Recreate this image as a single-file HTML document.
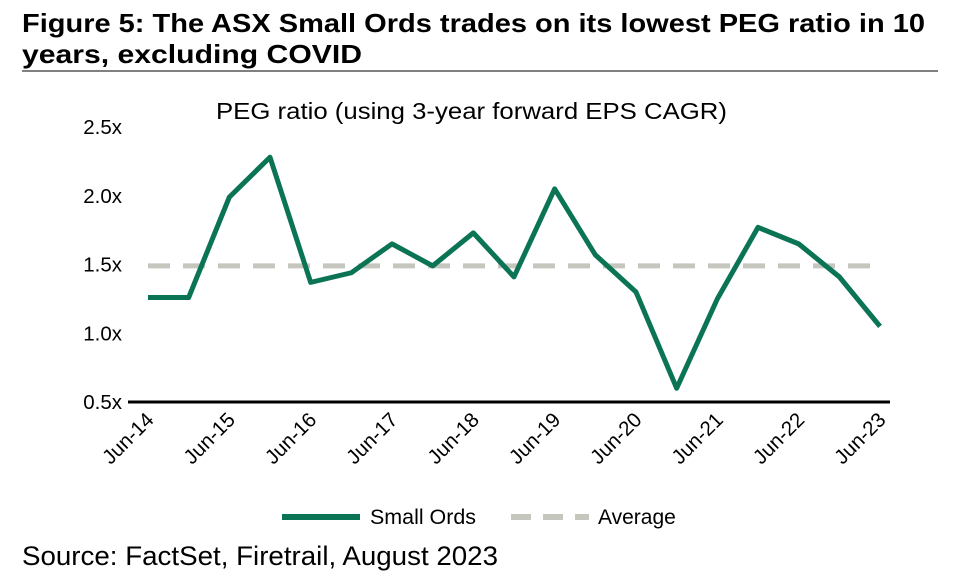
<!DOCTYPE html>
<html><head><meta charset="utf-8"><style>
body{margin:0;background:#fff;width:957px;height:581px;overflow:hidden;font-family:"Liberation Sans",Arial,sans-serif}
svg text{font-family:"Liberation Sans",Arial,sans-serif}
</style></head><body>
<svg width="957" height="581" xmlns="http://www.w3.org/2000/svg">
<text x="22" y="32" font-size="26" font-weight="bold" textLength="903" lengthAdjust="spacingAndGlyphs">Figure 5: The ASX Small Ords trades on its lowest PEG ratio in 10</text>
<text x="22" y="63" font-size="26" font-weight="bold" textLength="340" lengthAdjust="spacingAndGlyphs">years, excluding COVID</text>
<line x1="22" y1="71" x2="938" y2="71" stroke="#000" stroke-width="1"/>
<text x="216" y="119" font-size="23" textLength="511" lengthAdjust="spacingAndGlyphs">PEG ratio (using 3-year forward EPS CAGR)</text>
<g id="yaxis"></g><g id="xaxis"></g><g id="series"></g>
<g>
<line x1="282" y1="517" x2="360" y2="517" stroke="#0b7455" stroke-width="6"/>
<text x="370" y="524" font-size="21" textLength="106" lengthAdjust="spacingAndGlyphs">Small Ords</text>
<line x1="511" y1="517" x2="589" y2="517" stroke="#c5c6bd" stroke-width="6" stroke-dasharray="20,12"/>
<text x="598" y="524" font-size="21">Average</text>
</g>
<text x="22" y="565" font-size="27" textLength="476" lengthAdjust="spacingAndGlyphs">Source: FactSet, Firetrail, August 2023</text>
</svg>
<script>
const xLabels=["Jun-14","Jun-15","Jun-16","Jun-17","Jun-18","Jun-19","Jun-20","Jun-21","Jun-22","Jun-23"];
const smallOrds=[1.26,1.26,1.99,2.28,1.37,1.44,1.65,1.49,1.73,1.41,2.05,1.57,1.30,0.60,1.25,1.77,1.65,1.41,1.05];
const average=1.49;
const yTicks=[0.5,1.0,1.5,2.0,2.5];
const NS="http://www.w3.org/2000/svg";
const x0=148,x1=880,yMin=0.5,yMax=2.5,py0=402,py1=127;
const xs=i=>x0+i*(x1-x0)/(smallOrds.length-1);
const ys=v=>py0-(v-yMin)/(yMax-yMin)*(py0-py1);
function mk(t,a,p){const e=document.createElementNS(NS,t);for(const k in a)e.setAttribute(k,a[k]);p.appendChild(e);return e;}
const ya=document.getElementById('yaxis');
yTicks.forEach(v=>{const t=mk('text',{x:122,y:ys(v)+7,'font-size':20.5,'text-anchor':'end'},ya);t.textContent=v.toFixed(1)+'x';

});
const xa=document.getElementById('xaxis');
const ax=mk('line',{x1:128,y1:py0,x2:890,y2:py0,stroke:'#000','stroke-width':3},xa);


xLabels.forEach((l,i)=>{const x=xs(i*2);const t=mk('text',{x:x+7,y:py0+19,'font-size':20.5,'text-anchor':'end',transform:`rotate(-45 ${x+7} ${py0+19})`},xa);t.textContent=l;

});
const s=document.getElementById('series');
const avg=mk('line',{x1:xs(0),y1:ys(average),x2:xs(smallOrds.length-1),y2:ys(average),stroke:'#c5c6bd','stroke-width':5,'stroke-dasharray':'22,13'},s);


const pl=mk('polyline',{points:smallOrds.map((v,i)=>xs(i)+','+ys(v)).join(' '),fill:'none',stroke:'#0b7455','stroke-width':5,'stroke-linejoin':'round'},s);


</script>
</body></html>
